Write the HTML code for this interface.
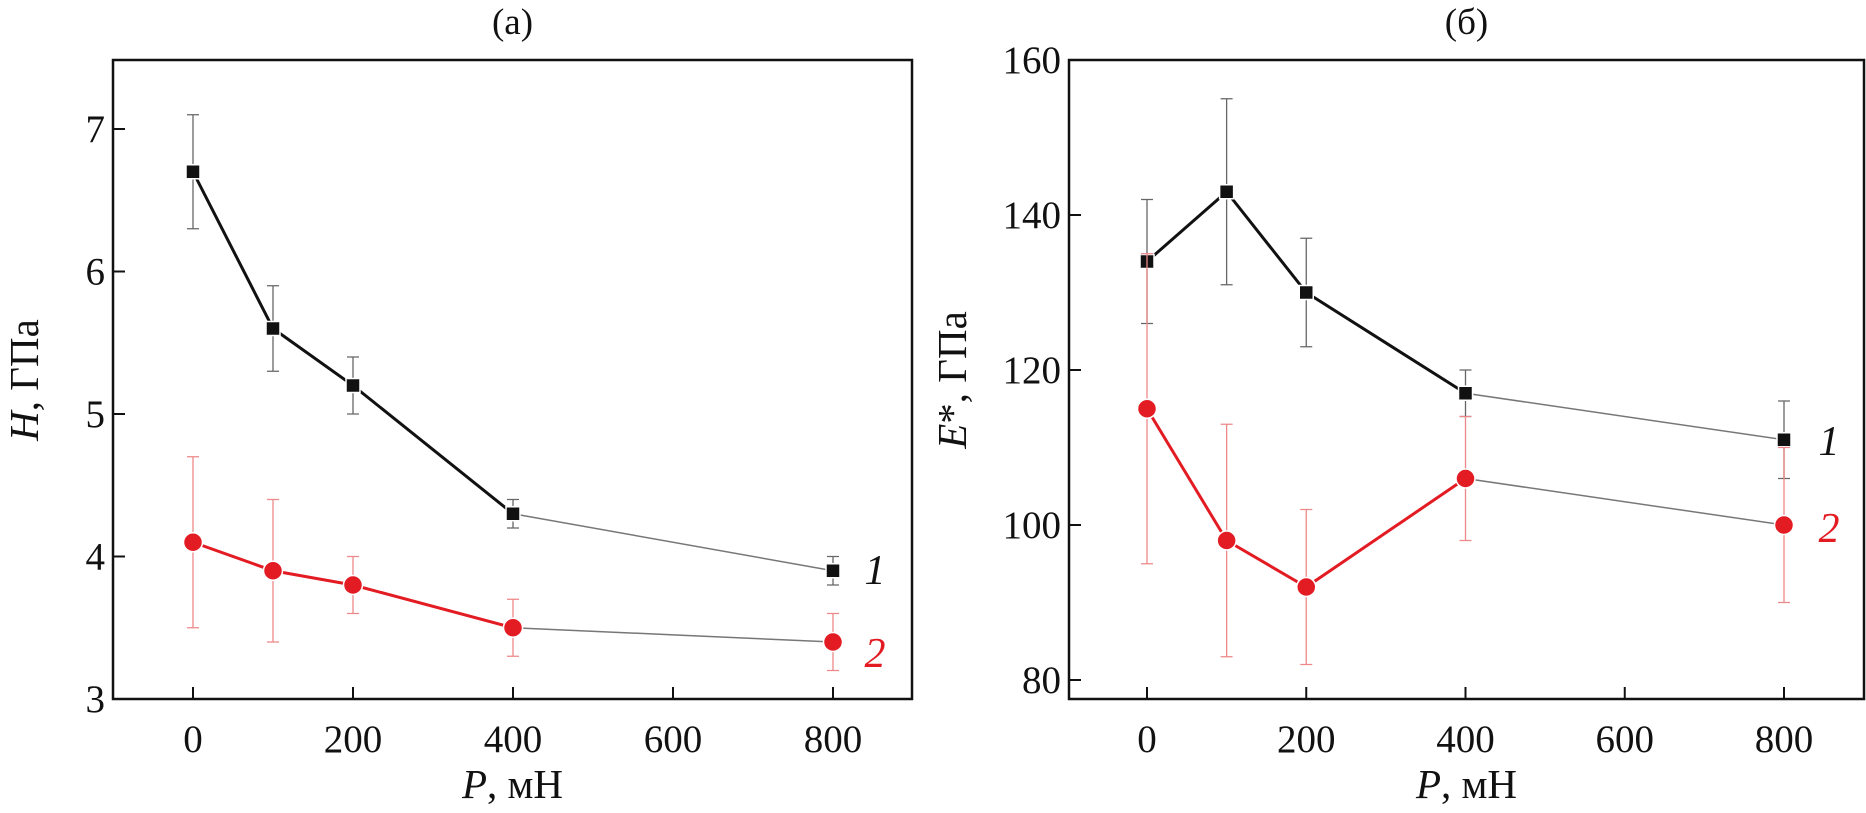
<!DOCTYPE html>
<html><head><meta charset="utf-8"><style>
html,body{margin:0;padding:0;background:#fff}
svg{display:block;font-family:"Liberation Serif",serif}
</style></head><body>
<svg id="c" width="1866" height="813" viewBox="0 0 1866 813"></svg>
<script>
const xVals=[0,100,200,400,800];
const xTicks=[0,200,400,600,800];
const hTicks=[3,4,5,6,7];
const eTicks=[80,100,120,140,160];
const h1=[6.7,5.6,5.2,4.3,3.9];
const h1err=[0.4,0.3,0.2,0.1,0.1];
const h2=[4.1,3.9,3.8,3.5,3.4];
const h2err=[0.6,0.5,0.2,0.2,0.2];
const e1=[134,143,130,117,111];
const e1err=[8,12,7,3,5];
const e2=[115,98,92,106,100];
const e2err=[20,15,10,8,10];

const svg=document.getElementById('c');
const NS='http://www.w3.org/2000/svg';
function mk(tag,attrs,parent){const e=document.createElementNS(NS,tag);for(const k in attrs)e.setAttribute(k,attrs[k]);(parent||svg).appendChild(e);return e;}

function panel(cfg){
  const g=mk('g',{});
  
  
  const X=v=>cfg.x0+(v-0)*(cfg.x800-cfg.x0)/800;
  const Y=v=>cfg.yB+(v-cfg.yMin)*(cfg.yT-cfg.yB)/(cfg.yMax-cfg.yMin);
  const fr=mk('rect',{x:cfg.L,y:60,width:cfg.R-cfg.L,height:699-60,fill:'none',stroke:'#111','stroke-width':2.5},g);
  
  
  xTicks.forEach(t=>{
    mk('line',{x1:X(t),x2:X(t),y1:699,y2:687,stroke:'#111','stroke-width':2},g);
    const tx=mk('text',{x:X(t),y:752,'font-size':39,'text-anchor':'middle',fill:'#111'},g);
    tx.textContent=t;
    
    
  });
  cfg.yTicks.forEach(t=>{
    mk('line',{x1:cfg.L,x2:cfg.L+12,y1:Y(t),y2:Y(t),stroke:'#111','stroke-width':2},g);
    const tx=mk('text',{x:cfg.L-8,y:Y(t)+13,'font-size':39,'text-anchor':'end',fill:'#111'},g);
    tx.textContent=t;
    
    
  });
  const tt=mk('text',{x:(cfg.L+cfg.R)/2,y:34,'font-size':37,'text-anchor':'middle',fill:'#111'},g);
  tt.textContent=cfg.title;
  
  
  const xl=mk('text',{x:(cfg.L+cfg.R)/2,y:798,'font-size':41,'text-anchor':'middle',fill:'#111'},g);
  xl.innerHTML='<tspan font-style="italic">P</tspan>, мН';
  
  
  const yl=mk('text',{x:0,y:0,'font-size':41,'text-anchor':'middle',fill:'#111',transform:`translate(${cfg.ylx},380) rotate(-90)`},g);
  yl.innerHTML=cfg.ylabel;
  
  
  cfg.series.forEach(s=>{
    const sg=mk('g',{},g);
    
    
    xVals.forEach((xv,i)=>{
      const x=X(xv),yt=Y(s.v[i]+s.e[i]),yb=Y(s.v[i]-s.e[i]);
      const eb=mk('path',{d:`M${x},${yt}V${yb}M${x-6},${yt}H${x+6}M${x-6},${yb}H${x+6}`,stroke:s.ecol,'stroke-width':1.3,fill:'none'},sg);
      
      
    });
    for(let i=0;i<xVals.length-1;i++){
      const thin=i===xVals.length-2;
      const ln=mk('line',{x1:X(xVals[i]),y1:Y(s.v[i]),x2:X(xVals[i+1]),y2:Y(s.v[i+1]),stroke:thin?'#777':s.col,'stroke-width':thin?1.5:3},sg);
      
      
    }
    xVals.forEach((xv,i)=>{
      let m;
      if(s.shape==='sq') m=mk('rect',{x:X(xv)-7,y:Y(s.v[i])-7,width:14,height:14,fill:s.col,stroke:'#fff','stroke-width':1.5},sg);
      else m=mk('circle',{cx:X(xv),cy:Y(s.v[i]),r:9.5,fill:s.col,stroke:'#fff','stroke-width':1.5},sg);
      
      
    });
    const lb=mk('text',{x:s.lx,y:s.ly,'font-size':42,'font-style':'italic',fill:s.col,'text-anchor':'middle'},sg);
    lb.textContent=s.label;
    
    
  });
}
panel({name:'panel-a',title:'(a)',L:113,R:912,x0:193,x800:833,yB:699,yT:129,yMin:3,yMax:7,yTicks:hTicks,ylx:38,
  ylabel:'<tspan font-style="italic">H</tspan>, ГПа',
  series:[{name:'series-1',v:h1,e:h1err,col:'#111',ecol:'#666',shape:'sq',label:'1',lx:875,ly:584},
          {name:'series-2',v:h2,e:h2err,col:'#e31b23',ecol:'#e88',shape:'c',label:'2',lx:875,ly:667}]});
panel({name:'panel-b',title:'(б)',L:1069,R:1864,x0:1147,x800:1784,yB:680,yT:60,yMin:80,yMax:160,yTicks:eTicks,ylx:966,
  ylabel:'<tspan font-style="italic">E</tspan>*, ГПа',
  series:[{name:'series-1',v:e1,e:e1err,col:'#111',ecol:'#666',shape:'sq',label:'1',lx:1829,ly:455},
          {name:'series-2',v:e2,e:e2err,col:'#e31b23',ecol:'#e88',shape:'c',label:'2',lx:1829,ly:542}]});
</script>
</body></html>
